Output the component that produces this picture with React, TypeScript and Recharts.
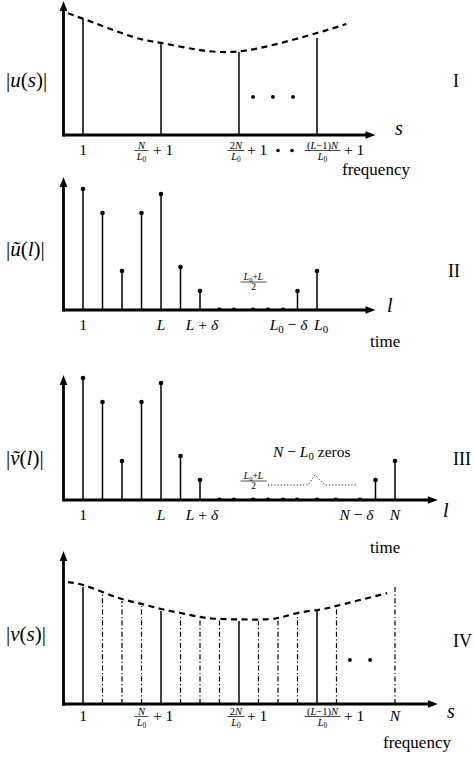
import React from "react";
import { ComposedChart, XAxis, YAxis, Line, Scatter, ReferenceLine, ReferenceDot } from "recharts";

const SERIF = "'Liberation Serif','DejaVu Serif',serif";

// ---------- Panel I : |u(s)| (frequency) ----------
const uPos = [1, 5, 9, 13];
const uMag = [8.66, 6.87, 6.19, 7.24];
const uEnvX = [0.23, 1.87, 3.58, 5, 7, 8.6, 10.4, 13, 14.5];
const uEnvY = [9.08, 8.21, 7.31, 6.87, 6.34, 6.2, 6.6, 7.61, 8.28];
const uEllX = [9.72, 10.74, 11.77];
const uEllY = [2.84, 2.84, 2.84];
const uTicks = [1, 5, 9, 13];
const uTickLabels = ["1", "N/L0+1", "2N/L0+1••", "(L−1)N/L0+1"];

// ---------- Panel II : |ũ(l)| (time) ----------
const utPos = [1, 2, 3, 4, 5, 6, 7, 12, 13];
const utMag = [9.1, 7.29, 2.93, 7.29, 8.72, 3.23, 1.43, 1.43, 2.93];
const utZeros = [8, 8.74, 9.72, 10.49, 11.26];
const utTicks = [1, 5, 7, 12, 13];
const utTickLabels = ["1", "L", "L+δ", "L0−δ", "L0"];

// ---------- Panel III : |ṽ(l)| (time) ----------
const vtPos = [1, 2, 3, 4, 5, 6, 7, 16, 17];
const vtMag = [9.76, 7.84, 3.12, 7.84, 9.36, 3.52, 1.6, 1.6, 3.12];
const vtZeros = [8, 8.74, 9.72, 10.49, 11.26, 11.97, 13, 13.97, 15.2];
const vtTicks = [1, 5, 7, 16, 17];
const vtTickLabels = ["1", "L", "L+δ", "N−δ", "N"];
const braceX = [10.49, 12.54, 12.9, 13.4, 15.05];
const braceY = [1.2, 1.2, 2.0, 1.2, 1.2];

// ---------- Panel IV : |v(s)| (frequency) ----------
const vMainPos = [1, 5, 9, 13];
const vMainMag = [7.65, 6.08, 5.42, 6.08];
const vAliasPos = [2, 3, 4, 6, 7, 8, 10, 11, 12, 14, 17];
const vAliasMag = [7.32, 6.73, 6.41, 5.75, 5.56, 5.49, 5.42, 5.69, 5.95, 6.34, 7.65];
const vEnvX = [0.23, 1, 2, 3, 4, 5, 6, 7, 8, 9.8, 11, 12, 13, 14, 16.6];
const vEnvY = [7.97, 7.78, 7.32, 6.86, 6.54, 6.21, 5.95, 5.69, 5.56, 5.52, 5.62, 5.95, 6.14, 6.41, 7.25];
const vEllX = [14.69, 15.72];
const vEllY = [2.88, 2.88];
const vTicks = [1, 5, 9, 13, 17];
const vTickLabels = ["1", "N/L0+1", "2N/L0+1", "(L−1)N/L0+1", "N"];

const PX_PER_UNIT = 19.5;
const LEFT = 63.5;

const pts = (xs: number[], ys: number[]) => xs.map((x, i) => ({ x, y: ys[i] }));
const zerosPts = (xs: number[]) => xs.map((x) => ({ x, y: 0 }));

const It = ({ children }: any) => <tspan fontStyle="italic">{children}</tspan>;

function Frac({ cx, by, w, num, den, fs }: any) {
  return (
    <g fontFamily={SERIF} fill="#000">
      <text x={cx} y={by - 1.8} textAnchor="middle" fontSize={fs}>{num}</text>
      <line x1={cx - w / 2} x2={cx + w / 2} y1={by} y2={by} stroke="#000" strokeWidth={0.7} />
      <text x={cx} y={by + fs * 0.78 + 1} textAnchor="middle" fontSize={fs}>{den}</text>
    </g>
  );
}

const L0 = (fs: number, rest?: any) => (
  <>
    <It>L</It>
    <tspan fontSize={fs * 0.7} dy={fs * 0.22}>0</tspan>
    {rest ? <tspan dy={-fs * 0.22}>{rest}</tspan> : null}
  </>
);

function mathLabel(label: string, x: number, y: number, off: number) {
  const b = y + off;
  const ax = b - 4.5;
  const fs = 15.5;
  const sf = 10.5;
  const c = { fontFamily: SERIF, fill: "#000", fontSize: fs };
  switch (label) {
    case "1":
      return <text x={x} y={b} textAnchor="middle" {...c}>1</text>;
    case "L":
      return <text x={x} y={b} textAnchor="middle" {...c}><It>L</It></text>;
    case "N":
      return <text x={x} y={b} textAnchor="middle" {...c}><It>N</It></text>;
    case "L+δ":
      return <text x={x + 2} y={b} textAnchor="middle" {...c}><It>L</It> + <It>δ</It></text>;
    case "L0−δ":
      return <text x={x + 10} y={b} textAnchor="end" {...c}>{L0(fs, <>{" − "}<It>δ</It></>)}</text>;
    case "L0":
      return <text x={x - 3} y={b} textAnchor="start" {...c}>{L0(fs)}</text>;
    case "N−δ":
      return <text x={x - 2} y={b} textAnchor="end" {...c}><It>N</It> − <It>δ</It></text>;
    case "N/L0+1":
      return (
        <g>
          <Frac cx={x - 19.5} by={ax} w={14} fs={sf} num={<It>N</It>} den={L0(sf)} />
          <text x={x - 8} y={b} {...c}>+ 1</text>
        </g>
      );
    case "2N/L0+1":
    case "2N/L0+1••":
      return (
        <g>
          <Frac cx={x - 3} by={ax} w={17} fs={sf} num={<>2<It>N</It></>} den={L0(sf)} />
          <text x={x + 8} y={b} {...c}>+ 1</text>
          {label.endsWith("••") ? (
            <>
              <circle cx={x + 39} cy={ax} r={1.8} fill="#000" />
              <circle cx={x + 53} cy={ax} r={1.8} fill="#000" />
            </>
          ) : null}
        </g>
      );
    case "(L−1)N/L0+1":
      return (
        <g>
          <Frac cx={x + 5.5} by={ax} w={36} fs={sf} num={<>(<It>L</It>−1)<It>N</It></>} den={L0(sf)} />
          <text x={x + 27} y={b} {...c}>+ 1</text>
        </g>
      );
  }
  return <g />;
}

const makeTick = (ticks: number[], labels: string[], off: number) => (p: any) => {
  const v = p?.payload?.value;
  const idx = ticks.findIndex((t) => Math.abs(t - v) < 1e-6);
  if (idx < 0) return <g />;
  return <g>{mathLabel(labels[idx], p.x, p.y, off)}</g>;
};

const ArrowRight = (p: any) => (
  <path d={`M${p.cx},${p.cy} L${p.cx - 10},${p.cy - 3.8} L${p.cx - 10},${p.cy + 3.8} Z`} fill="#000" />
);
const ArrowUp = (p: any) => (
  <path d={`M${p.cx},${p.cy} L${p.cx - 3.8},${p.cy + 10} L${p.cx + 3.8},${p.cy + 10} Z`} fill="#000" />
);
const dotShape = (r: number) => (p: any) => <circle cx={p.cx} cy={p.cy} r={r} fill="#000" />;

function axes(xMax: number) {
  return [
    <ReferenceLine key="xa" segment={[{ x: 0, y: 0 }, { x: xMax - 0.3, y: 0 }]} stroke="#000" strokeWidth={2.8} ifOverflow="visible" />,
    <ReferenceLine key="ya" segment={[{ x: 0, y: -0.12 }, { x: 0, y: 9.5 }]} stroke="#000" strokeWidth={2.8} ifOverflow="visible" />,
    <ReferenceDot key="xh" x={xMax} y={0} r={0} shape={ArrowRight} ifOverflow="visible" />,
    <ReferenceDot key="yh" x={0} y={10} r={0} shape={ArrowUp} ifOverflow="visible" />,
  ];
}

function stems(xs: number[], ys: number[], prefix: string, dash?: string, w = 1.5) {
  return xs.map((x, i) => (
    <ReferenceLine
      key={prefix + i}
      segment={[{ x, y: 0 }, { x, y: ys[i] }]}
      stroke="#000"
      strokeWidth={w}
      strokeDasharray={dash}
      ifOverflow="visible"
    />
  ));
}

function xAxisEl(xMax: number, ticks: number[], labels: string[], off: number) {
  return (
    <XAxis
      type="number"
      dataKey="x"
      domain={[0, xMax]}
      ticks={ticks}
      interval={0}
      allowDataOverflow
      axisLine={false}
      tickLine={false}
      tickSize={0}
      tickMargin={0}
      height={40}
      tick={makeTick(ticks, labels, off)}
    />
  );
}
const yAxisEl = () => <YAxis type="number" dataKey="y" domain={[0, 10]} hide allowDataOverflow />;

const margin = (top: number, bottom: number, xMax: number) => ({
  top,
  bottom,
  left: LEFT,
  right: 474 - LEFT - xMax * PX_PER_UNIT,
});

export default function App() {
  const t = { fontFamily: SERIF, fill: "#000" };
  return (
    <div style={{ position: "absolute", left: 0, top: 0, width: 474, height: 757, background: "#fff", overflow: "hidden" }}>
      {/* Panel I */}
      <div style={{ position: "absolute", left: 0, top: 0 }}>
        <ComposedChart width={474} height={185} margin={margin(1, 10, 16)}>
          {xAxisEl(16, uTicks, uTickLabels, 20)}
          {yAxisEl()}
          {axes(16)}
          {stems(uPos, uMag, "u")}
          <Line data={pts(uEnvX, uEnvY)} dataKey="y" type="natural" dot={false} stroke="#000" strokeWidth={2.2} strokeDasharray="6 4.5" isAnimationActive={false} />
          <Scatter data={pts(uEllX, uEllY)} dataKey="y" shape={dotShape(1.9)} isAnimationActive={false} />
        </ComposedChart>
      </div>
      {/* Panel II */}
      <div style={{ position: "absolute", left: 0, top: 175 }}>
        <ComposedChart width={474} height={185} margin={margin(2, 10, 16)}>
          {xAxisEl(16, utTicks, utTickLabels, 20)}
          {yAxisEl()}
          {axes(16)}
          {stems(utPos, utMag, "ut")}
          <Scatter data={pts(utPos, utMag)} dataKey="y" shape={dotShape(2.3)} isAnimationActive={false} />
          <Scatter data={zerosPts(utZeros)} dataKey="y" shape={dotShape(2.5)} isAnimationActive={false} />
        </ComposedChart>
      </div>
      {/* Panel III */}
      <div style={{ position: "absolute", left: 0, top: 372 }}>
        <ComposedChart width={474} height={190} margin={margin(3, 22, 19.2)}>
          {xAxisEl(19.2, vtTicks, vtTickLabels, 20)}
          {yAxisEl()}
          {axes(19.2)}
          {stems(vtPos, vtMag, "vt")}
          <Scatter data={pts(vtPos, vtMag)} dataKey="y" shape={dotShape(2.3)} isAnimationActive={false} />
          <Scatter data={zerosPts(vtZeros)} dataKey="y" shape={dotShape(2.5)} isAnimationActive={false} />
          <Line data={pts(braceX, braceY)} dataKey="y" type="linear" dot={false} stroke="#000" strokeWidth={1} strokeDasharray="1 2.2" isAnimationActive={false} />
        </ComposedChart>
      </div>
      {/* Panel IV */}
      <div style={{ position: "absolute", left: 0, top: 549 }}>
        <ComposedChart width={474} height={208} margin={margin(2, 13, 19.2)}>
          {xAxisEl(19.2, vTicks, vTickLabels, 17)}
          {yAxisEl()}
          {axes(19.2)}
          {stems(vMainPos, vMainMag, "vm")}
          {stems(vAliasPos, vAliasMag, "va", "5 2.5 1.2 2.5", 1.2)}
          <Line data={pts(vEnvX, vEnvY)} dataKey="y" type="natural" dot={false} stroke="#000" strokeWidth={2.2} strokeDasharray="6 4.5" isAnimationActive={false} />
          <Scatter data={pts(vEllX, vEllY)} dataKey="y" shape={dotShape(1.9)} isAnimationActive={false} />
        </ComposedChart>
      </div>
      {/* Text overlay */}
      <svg width={474} height={757} style={{ position: "absolute", left: 0, top: 0, pointerEvents: "none" }}>
        <text x={6} y={87} fontSize={21} {...t}>|<It>u</It>(<It>s</It>)|</text>
        <text x={6} y={256} fontSize={21} {...t}>|<It>ũ</It>(<It>l</It>)|</text>
        <text x={6} y={465} fontSize={21} {...t}>|<It>ṽ</It>(<It>l</It>)|</text>
        <text x={6} y={641} fontSize={21} {...t}>|<It>v</It>(<It>s</It>)|</text>

        <text x={453} y={87} fontSize={18} {...t}>I</text>
        <text x={448} y={277} fontSize={18} {...t}>II</text>
        <text x={453} y={465} fontSize={18} {...t}>III</text>
        <text x={453} y={647} fontSize={18} {...t}>IV</text>

        <text x={395} y={135} fontSize={20} {...t}><It>s</It></text>
        <text x={387} y={312} fontSize={20} {...t}><It>l</It></text>
        <text x={443} y={517} fontSize={20} {...t}><It>l</It></text>
        <text x={447} y={718} fontSize={20} {...t}><It>s</It></text>

        <text x={342} y={175} fontSize={17} {...t}>frequency</text>
        <text x={370} y={347} fontSize={17} {...t}>time</text>
        <text x={370} y={553} fontSize={17} {...t}>time</text>
        <text x={383} y={748} fontSize={17} {...t}>frequency</text>

        <Frac cx={253.5} by={282} w={26} fs={9.5} num={L0(9.5, <>+<It>L</It></>)} den="2" />
        <Frac cx={253.5} by={481} w={26} fs={9.5} num={L0(9.5, <>+<It>L</It></>)} den="2" />
        <text x={273} y={457} fontSize={15.5} {...t}><It>N</It> − {L0(15.5, " zeros")}</text>
      </svg>
    </div>
  );
}
